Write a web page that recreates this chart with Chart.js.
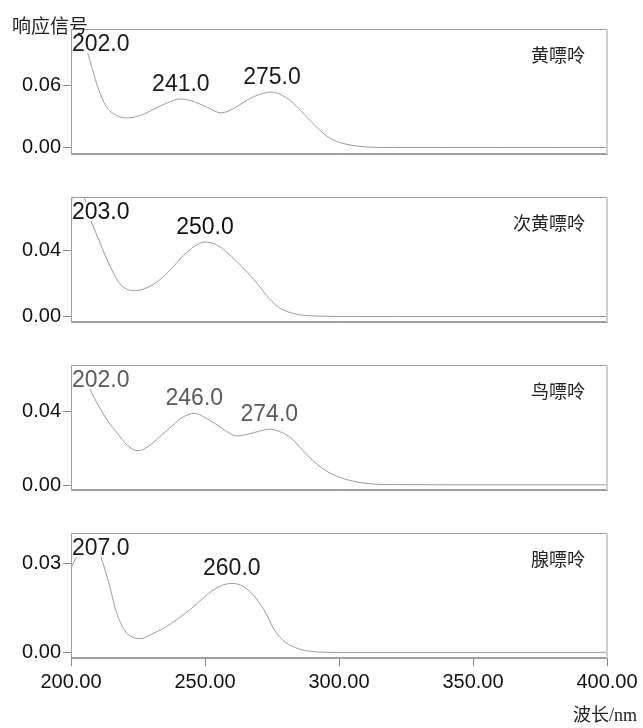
<!DOCTYPE html>
<html>
<head>
<meta charset="utf-8">
<script src="https://cdn.jsdelivr.net/npm/chart.js@4"></script>
<style>
  body { margin: 0; background: #fff; }
  #wrap { position: relative; width: 643px; height: 728px; }
  canvas { position: absolute; left: 0; }
  .lbl { position: absolute; color: #222; line-height: 1; white-space: nowrap; }
</style>
</head>
<body>
<div id="wrap">
  <canvas id="c1" width="643" height="168" style="top:0px"></canvas>
  <canvas id="c2" width="643" height="168" style="top:168px"></canvas>
  <canvas id="c3" width="643" height="168" style="top:336px"></canvas>
  <canvas id="c4" width="643" height="224" style="top:504px"></canvas>
  <div class="lbl" style="left:12px;top:15px;font-size:19px;font-family:'Noto Sans CJK SC',sans-serif;">响应信号</div>
  <div class="lbl" style="right:6px;top:706px;font-size:18px;font-family:'Liberation Serif','Noto Sans CJK SC',serif;">波长/nm</div>
</div>
<script>
// 黄嘌呤
let wl1 = [200, 202, 204, 206, 208, 210, 213, 217, 221, 226, 231, 236, 241, 246, 251, 256, 261, 266, 271, 275, 279, 283, 287, 291, 295, 299, 304, 310, 315, 320, 340, 360, 380, 400];
let ab1 = [0.098, 0.102, 0.100, 0.092, 0.075, 0.058, 0.040, 0.031, 0.0285, 0.031, 0.037, 0.043, 0.0467, 0.044, 0.0385, 0.0333, 0.038, 0.046, 0.0515, 0.0533, 0.0498, 0.0425, 0.032, 0.0215, 0.012, 0.0062, 0.0027, 0.0008, 0.0003, 0.0002, 0.0002, 0.0002, 0.0002, 0.0002];
let peaks1 = [202, 241, 275];
let yTicks1 = [0, 0.06];

// 次黄嘌呤
let wl2 = [200, 203, 205, 207, 210, 214, 218, 221, 224, 229, 234, 238, 242, 246, 250, 254, 258, 262, 266, 270, 274, 278, 284, 290, 300, 320, 350, 400];
let ab2 = [0.070, 0.078, 0.072, 0.060, 0.048, 0.0325, 0.0205, 0.0165, 0.0158, 0.018, 0.0235, 0.030, 0.037, 0.0425, 0.0452, 0.0437, 0.0392, 0.0332, 0.0266, 0.019, 0.0108, 0.0051, 0.0016, 0.0005, 0.0002, 0.0001, 0.0001, 0.0001];
let peaks2 = [203, 250];
let yTicks2 = [0, 0.04];

// 鸟嘌呤
let wl3 = [200, 202, 204, 206, 208, 211, 214, 217, 221, 225, 229, 233, 237, 241, 246, 250, 254, 258, 262, 266, 270, 274, 278, 282, 286, 290, 294, 298, 304, 310, 320, 350, 400];
let ab3 = [0.058, 0.062, 0.060, 0.055, 0.049, 0.041, 0.034, 0.0285, 0.0215, 0.0185, 0.021, 0.026, 0.031, 0.036, 0.0388, 0.0365, 0.033, 0.029, 0.0265, 0.0275, 0.029, 0.0302, 0.0288, 0.0255, 0.0195, 0.0135, 0.0088, 0.0055, 0.0025, 0.0009, 0.0002, 0.0001, 0.0001];
let peaks3 = [202, 246, 274];
let yTicks3 = [0, 0.04];

// 腺嘌呤
let wl4 = [200, 201, 204, 207, 210, 212, 214, 217, 220, 223, 226, 230, 235, 240, 245, 250, 255, 260, 264, 268, 272, 276, 280, 285, 290, 300, 350, 400];
let ab4 = [0.0285, 0.0305, 0.035, 0.037, 0.0345, 0.030, 0.024, 0.0135, 0.0075, 0.0052, 0.0048, 0.0062, 0.0085, 0.0115, 0.015, 0.019, 0.0222, 0.0234, 0.0225, 0.0195, 0.0145, 0.0075, 0.0035, 0.0013, 0.0004, 0.0001, 0.0001, 0.0001];
let peaks4 = [207, 260];
let yTicks4 = [0, 0.03];

let names = ["黄嘌呤", "次黄嘌呤", "鸟嘌呤", "腺嘌呤"];
let xTicks = [200, 250, 300, 350, 400];

var tickFont = { family: "'Liberation Sans', Arial, sans-serif", size: 20 };

function makePanel(id, wl, ab, peaks, yTicks, yMin, yMax, name, labelColor, last) {
    var pts = wl.map(function (w, i) { return { x: w, y: ab[i] }; });

    var overlay = {
        id: 'overlay' + id,
        afterDatasetsDraw: function (chart) {
            var ctx = chart.ctx, a = chart.chartArea;
            var x = chart.scales.x, y = chart.scales.y;
            ctx.save();
            // peak labels
            ctx.font = "23px 'Liberation Sans', Arial, sans-serif";
            ctx.textBaseline = 'alphabetic';
            ctx.textAlign = 'left';
            peaks.forEach(function (p) {
                var txt = p.toFixed(1);
                var w = ctx.measureText(txt).width;
                var left = x.getPixelForValue(p) - w / 2;
                if (left < a.left + 1) left = a.left + 1;
                var base = y.getPixelForValue(ab[wl.indexOf(p)]) - 8;
                if (base < a.top + 22) base = a.top + 22;
                ctx.fillStyle = '#fff';
                ctx.fillRect(left - 1, base - 17, w + 2, 19);
                ctx.fillStyle = labelColor;
                ctx.fillText(txt, left, base);
            });
            // compound name
            ctx.font = "18px 'Noto Sans CJK SC', sans-serif";
            ctx.textAlign = 'right';
            ctx.textBaseline = 'middle';
            ctx.fillStyle = '#222';
            ctx.fillText(name, a.right - 22, a.top + 26);
            // frame
            ctx.strokeStyle = '#a0a0a0';
            ctx.lineWidth = 1;
            ctx.strokeRect(a.left + 0.5, a.top + 0.5, a.width - 1, a.height - 1);
            ctx.strokeStyle = '#cfcfcf';
            ctx.lineWidth = 2;
            ctx.beginPath();
            ctx.moveTo(a.right, a.top);
            ctx.lineTo(a.right, a.bottom);
            ctx.stroke();
            ctx.restore();
        }
    };

    return new Chart(document.getElementById(id), {
        type: 'line',
        data: {
            datasets: [{
                data: pts,
                borderColor: '#9a9a9a',
                borderWidth: 1,
                pointRadius: 0,
                cubicInterpolationMode: 'monotone',
                fill: false
            }]
        },
        options: {
            responsive: false,
            animation: false,
            devicePixelRatio: 1,
            layout: { padding: { top: 29, right: 36, left: 0, bottom: 0 } },
            plugins: { legend: { display: false }, tooltip: { enabled: false } },
            scales: {
                x: {
                    type: 'linear',
                    min: 200,
                    max: 400,
                    afterBuildTicks: function (s) { s.ticks = xTicks.map(function (v) { return { value: v }; }); },
                    afterFit: function (s) { s.height = last ? 70 : 14; s.paddingLeft = 0; s.paddingRight = 0; },
                    ticks: {
                        display: last,
                        maxRotation: 0,
                        autoSkip: false,
                        padding: 4,
                        color: '#111',
                        font: tickFont,
                        callback: function (v) { return v.toFixed(2); }
                    },
                    grid: { display: last, drawOnChartArea: false, tickLength: 8, color: '#888' },
                    border: { color: '#a0a0a0' }
                },
                y: {
                    min: yMin,
                    max: yMax,
                    afterBuildTicks: function (s) { s.ticks = yTicks.map(function (v) { return { value: v }; }); },
                    afterFit: function (s) { s.width = 71; s.paddingTop = 0; s.paddingBottom = 0; },
                    ticks: {
                        padding: 2,
                        color: '#111',
                        font: tickFont,
                        callback: function (v) { return v.toFixed(2); }
                    },
                    grid: { drawOnChartArea: false, tickLength: 8, color: '#888' },
                    border: { color: '#a0a0a0' }
                }
            }
        },
        plugins: [overlay]
    });
}

makePanel('c1', wl1, ab1, peaks1, yTicks1, -0.006, 0.1136, names[0], '#1a1a1a', false);
makePanel('c2', wl2, ab2, peaks2, yTicks2, -0.0032, 0.0724, names[1], '#111', false);
makePanel('c3', wl3, ab3, peaks3, yTicks3, -0.0027, 0.0649, names[2], '#5a5a5a', false);
makePanel('c4', wl4, ab4, peaks4, yTicks4, -0.0018, 0.0404, names[3], '#1a1a1a', true);
</script>
</body>
</html>
